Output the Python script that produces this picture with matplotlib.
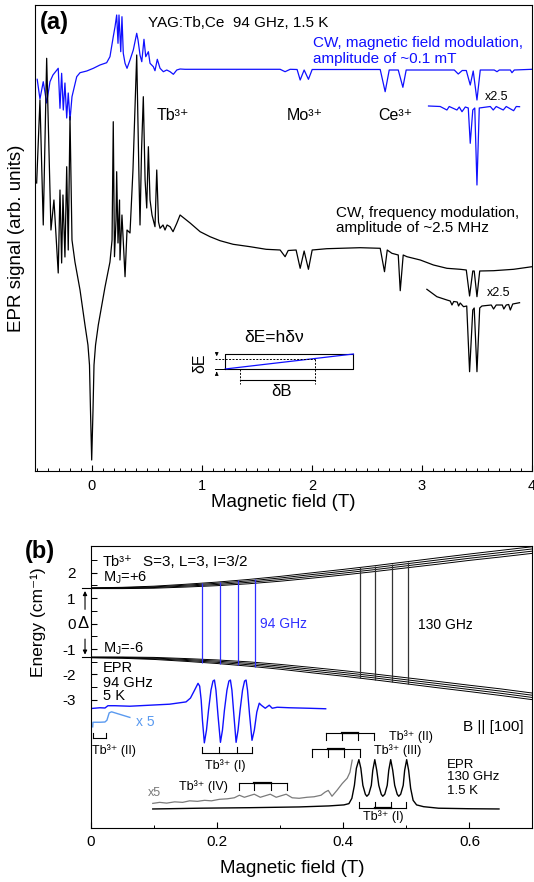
import numpy as np
import matplotlib
matplotlib.use("Agg")
import matplotlib.pyplot as plt
from matplotlib.ticker import MultipleLocator, FixedLocator, FuncFormatter

plt.rcParams['font.family'] = ['Liberation Sans', 'DejaVu Sans']
plt.rcParams['mathtext.fontset'] = 'custom'
plt.rcParams['mathtext.rm'] = 'Liberation Sans'
plt.rcParams['mathtext.default'] = 'rm'
plt.rcParams['axes.unicode_minus'] = False

BLUE = '#1010ff'
LIGHTBLUE = '#5a9af0'
GREY = '#7a7a7a'

# ---------------- panel (a) data: field (T), signal (arb. units) ----------------
cw_field_b = [-0.495, -0.47, -0.44, -0.409, -0.379, -0.352, -0.304, -0.288, -0.273, -0.258,
              -0.243, -0.227, -0.213, -0.197, -0.179, -0.136, -0.106, -0.045, 0.015, 0.075,
              0.136, 0.166, 0.196, 0.212, 0.227, 0.239, 0.248, 0.264, 0.275, 0.287,
              0.303, 0.321, 0.348, 0.378, 0.409, 0.421, 0.439, 0.455, 0.475, 0.491,
              0.515, 0.53, 0.56, 0.575, 0.596, 0.621, 0.651, 0.682, 0.712, 0.742,
              0.773, 0.803, 0.848, 1.712, 1.757, 1.803, 1.866, 1.894, 1.93, 1.969,
              2.003, 2.621, 2.666, 2.703, 2.785, 2.827, 2.857, 3.294, 3.33, 3.366,
              3.403, 3.439, 3.466, 3.5, 3.53, 3.657, 3.682, 3.703, 3.803, 3.818,
              3.839, 4.0]
cw_field_s = [391.4, 371.7, 389, 367.7, 389, 395.7, 402.4, 362.4, 397.4, 360.7,
              387.7, 352.7, 377.7, 350.7, 374, 394, 398, 399.7, 402.4, 405.7,
              408, 414, 434, 444, 455.7, 427.4, 455.7, 419, 454, 417.4,
              407.4, 402.4, 410.7, 420.7, 437.4, 430.7, 415.7, 409, 431.4, 414,
              419, 407.4, 404, 400, 411.4, 402.4, 399, 400.7, 399, 396.4,
              400.7, 401.7, 401.4, 401.4, 399, 401.4, 401.2, 390.7, 400.7, 391.4,
              401.2, 401.2, 379, 400.7, 400.7, 383.4, 400.7, 400.7, 396.7, 400.2,
              400.2, 385.7, 399.7, 370.7, 400.7, 400.7, 399, 400.7, 400.7, 398,
              400.7, 401.4]

cw_field_x25_b = [3.06, 3.166, 3.227, 3.248, 3.318, 3.339, 3.364, 3.394, 3.421, 3.439,
                  3.462, 3.48, 3.5, 3.521, 3.621, 3.648, 3.675, 3.739, 3.766, 3.833,
                  3.857, 3.887]
cw_field_x25_s = [364.7, 364.2, 360.7, 364.2, 360.7, 363.7, 359, 363.7, 362.7, 327.4,
                  360.7, 362.7, 285.7, 362.7, 364.2, 360.7, 364.2, 360.7, 364.2, 360,
                  364.2, 364]

cw_freq_b = [-0.5, -0.47, -0.44, -0.409, -0.37, -0.343, -0.304, -0.288, -0.273, -0.261,
             -0.243, -0.227, -0.213, -0.197, -0.179, -0.152, -0.106, -0.061, -0.034, -0.02,
             -0.011, 0.0, 0.012, 0.021, 0.035, 0.06, 0.121, 0.166, 0.185, 0.196,
             0.207, 0.221, 0.227, 0.239, 0.253, 0.257, 0.275, 0.303, 0.321, 0.348,
             0.375, 0.409, 0.43, 0.439, 0.453, 0.469, 0.485, 0.5, 0.515, 0.53,
             0.548, 0.575, 0.591, 0.607, 0.621, 0.648, 0.666, 0.685, 0.712, 0.739,
             0.773, 0.803, 0.894, 0.985, 1.075, 1.166, 1.285, 1.439, 1.585, 1.712,
             1.757, 1.785, 1.857, 1.894, 1.93, 1.969, 2.003, 2.136, 2.439, 2.621,
             2.66, 2.685, 2.727, 2.785, 2.803, 2.83, 2.864, 2.985, 3.105, 3.227,
             3.348, 3.403, 3.433, 3.462, 3.475, 3.5, 3.525, 3.651, 3.833, 4.0]
cw_freq_s = [287.7, 370.7, 245.7, 412.4, 240.7, 270.7, 197.7, 280.7, 207.7, 275.7,
             213.7, 304, 220.7, 354, 230.7, 208.7, 180.7, 145.7, 125.7, 105.7,
             60.7, 10.7, 60.7, 105.7, 125.7, 145.7, 183.7, 208.7, 230.7, 349,
             214, 250.7, 299, 227.7, 270.7, 210.7, 255.7, 194, 240.7, 237.7,
             300.7, 415.7, 290.7, 245.7, 320.7, 374, 290.7, 262.7, 324, 270.7,
             255.7, 244, 300.7, 248.7, 242.4, 245.7, 240.7, 245.7, 244, 239,
             247.4, 255.7, 247.7, 239, 234, 230, 226.4, 224, 221.4, 220.7,
             214, 220.2, 220.7, 202.4, 219.7, 201.4, 220.7, 222, 223, 222.4,
             199, 220.7, 217.4, 215.7, 180, 215.7, 214, 210.7, 205.7, 202.4,
             201.4, 200.7, 174.7, 199.7, 199.7, 174, 199.7, 200, 201.4, 204]

cw_freq_x25_b = [3.045, 3.136, 3.227, 3.257, 3.273, 3.289, 3.321, 3.333, 3.348, 3.378,
                 3.407, 3.433, 3.462, 3.475, 3.5, 3.525, 3.545, 3.63, 3.651, 3.675,
                 3.73, 3.744, 3.766, 3.788, 3.803, 3.825, 3.887]
cw_freq_x25_s = [181.4, 174, 170.7, 169.7, 165.7, 169.2, 168.7, 164.7, 167.7, 164,
                 164.7, 99, 160.7, 162.7, 99, 162.7, 164.7, 165.7, 161.7, 165.7,
                 165.7, 161.7, 165.7, 166.2, 160.7, 166.7, 168]

# sketch of the frequency-modulation principle (field, signal)
sketch_box_b = [1.212, 2.378]
sketch_box_s = [101.7, 116.7]
sketch_db_b = [1.348, 2.03]
sketch_de_s = 111.7
sketch_db_s = 91.2
sketch_low_s = 86.7

# ---------------- panel (b) data: field (T), energy (cm-1) ----------------
level_b = [0, 0.05, 0.1, 0.15, 0.2, 0.25, 0.3, 0.35, 0.4, 0.45, 0.5, 0.55, 0.6, 0.65, 0.699]
level_up = [1.39, 1.40, 1.43, 1.49, 1.56, 1.65, 1.76, 1.89, 2.02, 2.16, 2.31, 2.46, 2.61, 2.75, 2.89]
level_lo = [-1.33, -1.34, -1.37, -1.43, -1.50, -1.59, -1.70, -1.83, -1.96, -2.10, -2.25, -2.40,
            -2.55, -2.70, -2.86]
level_hf = [0.03, 0.05, 0.08, 0.11, 0.14, 0.17, 0.19, 0.21, 0.22, 0.23, 0.24, 0.25, 0.25, 0.26, 0.26]

trans94_b = [0.177, 0.205, 0.233, 0.261]
trans130_b = [0.426, 0.451, 0.477, 0.502]

epr94_b = [0.0005, 0.0147, 0.0226, 0.0273, 0.0383, 0.062, 0.0935, 0.125, 0.151, 0.158,
           0.1645, 0.17, 0.1726, 0.175, 0.177, 0.18, 0.1834, 0.1866, 0.1905, 0.1937,
           0.196, 0.1984, 0.2016, 0.2055, 0.2087, 0.2118, 0.2158, 0.2189, 0.2213, 0.2237,
           0.2268, 0.2303, 0.2334, 0.2366, 0.2405, 0.2437, 0.2461, 0.2484, 0.2517, 0.2555,
           0.2592, 0.2631, 0.267, 0.2702, 0.2765, 0.2828, 0.2875, 0.2954, 0.3144, 0.3459,
           0.3722]
epr94_e = [-3.34, -3.31, -3.32, -3.23, -3.23, -3.25, -3.21, -3.17, -3.08, -2.93,
           -2.62, -2.35, -2.46, -3.01, -3.80, -4.69, -4.19, -3.41, -2.62, -2.26,
           -2.22, -2.62, -3.60, -4.67, -4.19, -3.41, -2.62, -2.26, -2.22, -2.62,
           -3.60, -4.67, -4.19, -3.41, -2.62, -2.26, -2.22, -2.62, -3.60, -4.59,
           -4.19, -3.48, -3.13, -3.21, -3.33, -3.21, -3.33, -3.29, -3.31, -3.33,
           -3.35]

epr94_x5_b = [0.0032, 0.0036, 0.0147, 0.0226, 0.0257, 0.0293, 0.0331, 0.0462, 0.062]
epr94_x5_e = [-4.06, -3.88, -3.88, -3.87, -3.80, -3.51, -3.47, -3.57, -3.69]

epr130_b = [0.0983, 0.1724, 0.2513, 0.3301, 0.3774, 0.4011, 0.409, 0.4137, 0.4177, 0.4208,
            0.4248, 0.4279, 0.4311, 0.435, 0.4374, 0.4405, 0.4445, 0.4468, 0.45, 0.4531,
            0.4563, 0.4602, 0.4626, 0.4658, 0.4697, 0.4721, 0.4752, 0.4784, 0.4815, 0.4855,
            0.4879, 0.491, 0.495, 0.4973, 0.5005, 0.5036, 0.5068, 0.5107, 0.5162, 0.5273,
            0.551, 0.5983, 0.6467]
epr130_e = [-7.29, -7.26, -7.24, -7.21, -7.17, -7.13, -7.08, -6.87, -6.36, -5.69,
            -5.35, -5.69, -6.36, -6.71, -6.79, -6.71, -6.36, -5.77, -5.35, -5.77,
            -6.36, -6.71, -6.79, -6.71, -6.36, -5.77, -5.35, -5.77, -6.36, -6.71,
            -6.79, -6.71, -6.36, -5.77, -5.35, -5.77, -6.48, -6.95, -7.13, -7.20,
            -7.26, -7.28, -7.29]

epr130_x5_b = [0.0983, 0.1093, 0.1203, 0.133, 0.1456, 0.1566, 0.1692, 0.1803, 0.1913, 0.2039,
               0.2165, 0.2275, 0.2355, 0.2434, 0.2591, 0.2686, 0.2844, 0.2938, 0.3096, 0.3191,
               0.3301, 0.3427, 0.3538, 0.3648, 0.3711, 0.3763, 0.3822, 0.39, 0.3984, 0.4063,
               0.4106, 0.4142]
epr130_x5_e = [-7.07, -7.03, -7.06, -7.01, -7.03, -6.97, -6.99, -6.95, -6.97, -6.91,
               -6.89, -6.85, -6.75, -6.83, -6.71, -6.83, -6.71, -6.83, -6.71, -6.85,
               -6.87, -6.83, -6.81, -6.75, -6.63, -6.56, -6.79, -6.56, -6.29, -6.08,
               -5.85, -5.37]

# centre markers of the resolved sites
site_94_I = [0.177, 0.204, 0.231, 0.256]
site_94_II = [0.003, 0.025]
site_130_I = [0.425, 0.45, 0.475, 0.5]
site_130_II = [0.372, 0.398, 0.424, 0.448]
site_130_III = [0.351, 0.376, 0.402, 0.427]
site_130_IV = [0.235, 0.259, 0.285, 0.311]

TB = 'Tb³⁺'

fig = plt.figure(figsize=(5.34, 8.82), dpi=100)
ax_a = fig.add_axes([35 / 534, 1 - 470.7 / 882, 497 / 534, 465.7 / 882])
ax_b = fig.add_axes([90.7 / 534, 1 - 828.3 / 882, 441.3 / 534, 282.3 / 882])

# ---------------- panel (a) ----------------
ax_a.plot(cw_field_b, cw_field_s, color=BLUE, lw=0.9)
ax_a.plot(cw_field_x25_b, cw_field_x25_s, color=BLUE, lw=0.9)
ax_a.plot(cw_freq_b, cw_freq_s, color='k', lw=0.9)
ax_a.plot(cw_freq_x25_b, cw_freq_x25_s, color='k', lw=0.9)

# small sketch: dE = h dnu
b0, b1 = sketch_box_b
s0, s1 = sketch_box_s
ax_a.plot([b0, b1, b1, b0, b0], [s0, s0, s1, s1, s0], color='k', lw=0.8)
ax_a.plot([b0, b1], [s0, s1], color=BLUE, lw=0.9)
ax_a.plot([1.121, sketch_db_b[1]], [sketch_de_s, sketch_de_s], 'k--', lw=0.7, dashes=(2, 1.5))
ax_a.plot([1.121, b0], [s0, s0], 'k-', lw=0.7)
ax_a.plot([sketch_db_b[1], sketch_db_b[1]], [sketch_de_s, sketch_low_s], 'k--', lw=0.7, dashes=(2, 1.5))
ax_a.plot([sketch_db_b[0], sketch_db_b[0]], [s0, sketch_low_s], 'k--', lw=0.7, dashes=(2, 1.5))
ax_a.plot(sketch_db_b, [sketch_db_s, sketch_db_s], 'k-', lw=0.8)
ax_a.annotate('', xy=(1.136, sketch_de_s), xytext=(1.136, 121),
              arrowprops=dict(arrowstyle='-|>', lw=0.6, color='k', mutation_scale=5))
ax_a.annotate('', xy=(1.136, s0), xytext=(1.136, 95),
              arrowprops=dict(arrowstyle='-|>', lw=0.6, color='k', mutation_scale=5))
ax_a.text(1.658, 133.7, 'δE=hδν', fontsize=12.5, ha='center', va='center')
ax_a.text(1.727, 79, 'δB', fontsize=12, ha='center', va='center')
ax_a.text(0.985, 107.7, 'δE', fontsize=11.5, ha='center', va='center', rotation=90)

ax_a.text(-0.47, 447.7, '(a)', fontsize=17, fontweight='bold', va='center', ha='left')
ax_a.text(0.512, 448, 'YAG:Tb,Ce  94 GHz, 1.5 K', fontsize=11, va='center')
ax_a.text(2.015, 428, 'CW, magnetic field modulation,', fontsize=11, color=BLUE, va='center')
ax_a.text(2.015, 411.4, 'amplitude of ~0.1 mT', fontsize=11, color=BLUE, va='center')
ax_a.text(0.591, 355.7, TB, fontsize=11.5, va='center')
ax_a.text(1.773, 355.7, 'Mo³⁺', fontsize=11.5, va='center')
ax_a.text(2.605, 355.7, 'Ce³⁺', fontsize=11.5, va='center')
ax_a.text(3.575, 374, 'x2.5', fontsize=9, va='center')
ax_a.text(2.221, 257.4, 'CW, frequency modulation,', fontsize=11, va='center')
ax_a.text(2.221, 242.4, 'amplitude of ~2.5 MHz', fontsize=11, va='center')
ax_a.text(3.59, 177.7, 'x2.5', fontsize=9, va='center')

ax_a.set_xlim(-0.515, 4.0)
ax_a.set_ylim(0, 465.7)
ax_a.xaxis.set_major_locator(MultipleLocator(1))
ax_a.xaxis.set_minor_locator(MultipleLocator(0.1))
ax_a.set_yticks([])
ax_a.tick_params(axis='x', which='both', direction='in', top=False, labelsize=10.5, pad=6)
ax_a.tick_params(axis='x', which='major', length=4.5, width=0.8)
ax_a.tick_params(axis='x', which='minor', length=2.3, width=0.7)
ax_a.set_xlabel('Magnetic field (T)', fontsize=13.5)
ax_a.xaxis.set_label_coords(0.5, -0.05)
ax_a.set_ylabel('EPR signal (arb. units)', fontsize=13.5)
ax_a.yaxis.set_label_coords(-0.02, 0.5)

# ---------------- panel (b) ----------------
level_b = np.array(level_b)
for k in range(4):
    frac = (k - 1.5) / 3.0
    ax_b.plot(level_b, np.array(level_up) + frac * np.array(level_hf), color='k', lw=0.7)
    ax_b.plot(level_b, np.array(level_lo) - frac * np.array(level_hf), color='k', lw=0.7)

top_env = np.array(level_up) + 0.5 * np.array(level_hf)
bot_env = np.array(level_lo) - 0.5 * np.array(level_hf)
ax_b.vlines(trans94_b, np.interp(trans94_b, level_b, bot_env),
            np.interp(trans94_b, level_b, top_env), color='#3030ff', lw=0.9)
ax_b.vlines(trans130_b, np.interp(trans130_b, level_b, bot_env),
            np.interp(trans130_b, level_b, top_env), color='#333333', lw=0.9)

ax_b.plot(epr94_b, epr94_e, color=BLUE, lw=1.0)
ax_b.plot(epr94_x5_b, epr94_x5_e, color=LIGHTBLUE, lw=1.0)
ax_b.plot(epr130_x5_b, epr130_x5_e, color=GREY, lw=0.9)
ax_b.plot(epr130_b, epr130_e, color='k', lw=1.0)


def bracket(ax, ticks, level, tip, thick=False):
    ax.plot([ticks[0], ticks[-1]], [level, level], color='k', lw=0.8)
    for t in ticks:
        ax.plot([t, t], [level, tip], color='k', lw=0.8)
    if thick:
        ax.plot([ticks[1], ticks[2]], [level, level], color='k', lw=1.6)


bracket(ax_b, site_94_II, -4.51, -4.31)
bracket(ax_b, site_94_I, -5.09, -4.85)
bracket(ax_b, site_130_II, -4.30, -4.56, thick=True)
bracket(ax_b, site_130_III, -4.95, -5.24, thick=True)
bracket(ax_b, site_130_IV, -6.27, -6.54, thick=True)
bracket(ax_b, site_130_I, -7.24, -7.02, thick=True)

# level splitting arrow (outside the frame)
ax_b.annotate('', xy=(-0.009, 1.39), xytext=(-0.009, 0.45), annotation_clip=False,
              arrowprops=dict(arrowstyle='-|>', lw=0.8, color='k', mutation_scale=6))
ax_b.annotate('', xy=(-0.009, -1.33), xytext=(-0.009, -0.5), annotation_clip=False,
              arrowprops=dict(arrowstyle='-|>', lw=0.8, color='k', mutation_scale=6))
ax_b.plot([-0.014, 0.0], [1.39, 1.39], color='k', lw=0.8, clip_on=False)
ax_b.plot([-0.014, 0.0], [-1.33, -1.33], color='k', lw=0.8, clip_on=False)
ax_b.text(-0.0117, 0.0, 'Δ', fontsize=12, ha='center', va='center')

ax_b.text(0.019, 2.42, TB, fontsize=10.5, va='center')
ax_b.text(0.083, 2.42, 'S=3, L=3, I=3/2', fontsize=11, va='center')
ax_b.text(0.019, 1.79, 'M$_J$=+6', fontsize=10.5, va='center')
ax_b.text(0.019, -1.0, 'M$_J$=-6', fontsize=10.5, va='center')
ax_b.text(0.019, -1.76, 'EPR', fontsize=10.5, va='center')
ax_b.text(0.019, -2.32, '94 GHz', fontsize=10.5, va='center')
ax_b.text(0.019, -2.84, '5 K', fontsize=10.5, va='center')
ax_b.text(0.268, 0.0, '94 GHz', fontsize=10, color='#3030ff', va='center')
ax_b.text(0.519, -0.06, '130 GHz', fontsize=10, va='center')
ax_b.text(0.589, -4.06, 'B || [100]', fontsize=11, va='center')
ax_b.text(0.072, -3.87, 'x 5', fontsize=10, color=LIGHTBLUE, va='center')
ax_b.text(0.09, -6.67, 'x5', fontsize=9, color=GREY, va='center')
ax_b.text(0.002, -4.99, TB + ' (II)', fontsize=9, va='center')
ax_b.text(0.213, -5.57, TB + ' (I)', fontsize=9, ha='center', va='center')
ax_b.text(0.472, -4.43, TB + ' (II)', fontsize=9, va='center')
ax_b.text(0.448, -5.0, TB + ' (III)', fontsize=9, va='center')
ax_b.text(0.2177, -6.42, TB + ' (IV)', fontsize=9, ha='right', va='center')
ax_b.text(0.464, -7.6, TB + ' (I)', fontsize=9, ha='center', va='center')
ax_b.text(0.564, -5.57, 'EPR', fontsize=9.5, va='center')
ax_b.text(0.564, -6.05, '130 GHz', fontsize=9.5, va='center')
ax_b.text(0.564, -6.58, '1.5 K', fontsize=9.5, va='center')

ax_b.set_xlim(0, 0.699)
ax_b.set_ylim(-8.05, 3.05)
ax_b.xaxis.set_major_locator(MultipleLocator(0.2))
ax_b.xaxis.set_minor_locator(MultipleLocator(0.1))
ax_b.xaxis.set_major_formatter(FuncFormatter(lambda v, p: '0' if abs(v) < 1e-9 else '%.1f' % v))
ax_b.yaxis.set_major_locator(FixedLocator([-3, -2, -1, 0, 1, 2]))
ax_b.yaxis.set_minor_locator(FixedLocator([-2.5, -1.5, -0.5, 0.5, 1.5, 2.5]))
ax_b.tick_params(axis='both', which='both', direction='in', top=False, right=False, labelsize=11)
ax_b.tick_params(axis='x', which='major', length=4.5, width=0.8, pad=5)
ax_b.tick_params(axis='x', which='minor', length=2.3, width=0.7)
ax_b.tick_params(axis='y', which='major', length=4.5, width=0.8, pad=11)
ax_b.tick_params(axis='y', which='minor', length=4.0, width=0.7)
ax_b.set_xlabel('Magnetic field (T)', fontsize=13.5)
ax_b.xaxis.set_label_coords(0.456, -0.112)
ax_b.set_ylabel('Energy (cm⁻¹)', fontsize=12.5)
ax_b.yaxis.set_label_coords(-0.101, 0.73)

fig.text(25 / 534, 1 - 551.7 / 882, '(b)', fontsize=17, fontweight='bold', va='center', ha='left')

fig.savefig('out.png', dpi=100)
